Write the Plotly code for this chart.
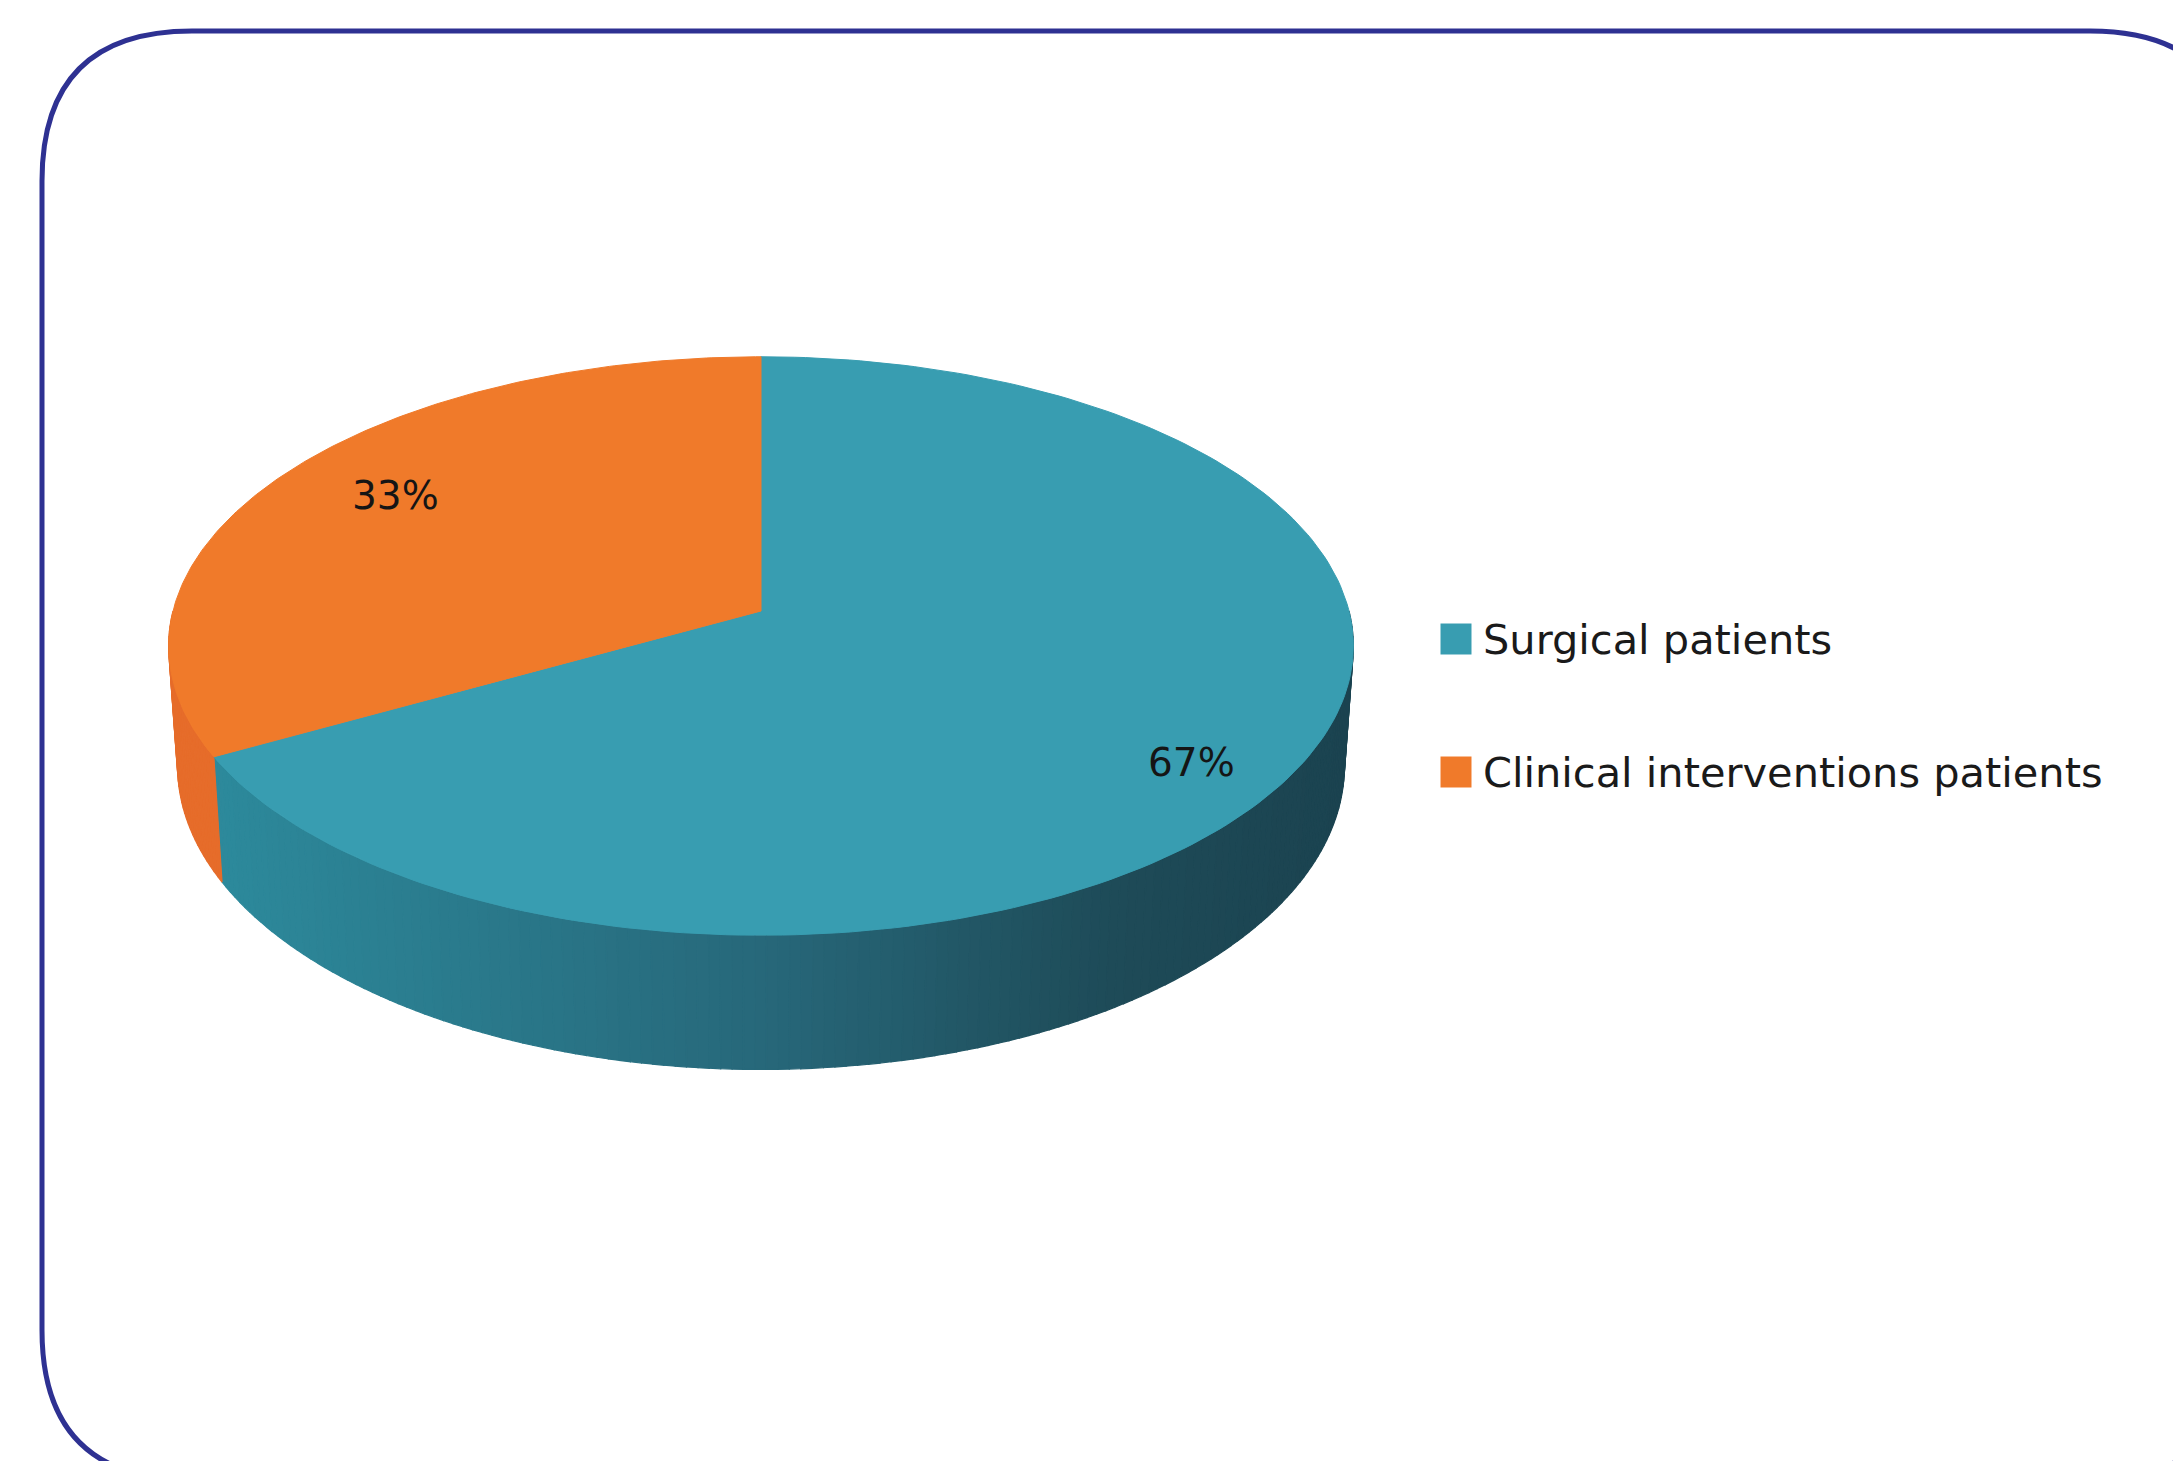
import numpy as np
import plotly.graph_objects as go

# ---- data ----
categories = ["Surgical patients", "Clinical interventions patients"]
values = [67, 33]
pct_labels = ["67%", "33%"]
top_colors = ["#389DB1", "#F07A2A"]

# ---- geometry (pixel space) ----
W, H = 2173, 1461
CX, CY = 761, 611          # projected pie centre
RX, AY = 588, 285          # horizontal radius, vertical (back) radius
K = 0.121                  # perspective factor
DEPTH = 118
BOTTOM_SCALE = 0.985


def proj(t, r=1.0):
    u, v = r * np.cos(t), r * np.sin(t)
    w = 1 + K * v
    return CX + RX * u / w, CY - AY * v / w


def proj_bottom(t):
    u, v = np.cos(t), np.sin(t)
    w = 1 + K * v
    return CX + RX * BOTTOM_SCALE * u / w, CY - AY * v / w + DEPTH / w


def hex2rgb(h):
    h = h.lstrip("#")
    return np.array([int(h[i:i + 2], 16) for i in (0, 2, 4)], dtype=float)


def interp(stops, f):
    for (f0, c0), (f1, c1) in zip(stops[:-1], stops[1:]):
        if f <= f1:
            a = (f - f0) / (f1 - f0) if f1 > f0 else 0
            c = hex2rgb(c0) * (1 - a) + hex2rgb(c1) * a
            return "rgb(%d,%d,%d)" % tuple(np.round(c))
    c = hex2rgb(stops[-1][1])
    return "rgb(%d,%d,%d)" % tuple(c)


side_stops = {
    0: [(0.0, "#2D8C9E"), (0.5, "#27687A"), (0.8, "#1E4B58"), (1.0, "#1B4350")],
    1: [(0.0, "#E66C2A"), (1.0, "#DC6428")],
}

# slice angles (start at 12 o'clock, clockwise)
total = sum(values)
angles = []
start = np.pi / 2
for v in values:
    sweep = 2 * np.pi * v / total
    angles.append((start - sweep, start))
    start -= sweep

fig = go.Figure()

# ---- sides (front half only) ----
seg = np.deg2rad(1.0)
for i, (a0, a1) in enumerate(angles):
    lo, hi = a0, a1
    pieces = []
    for shift in (-2 * np.pi, 0, 2 * np.pi):
        s0, s1 = max(lo + shift, np.pi), min(hi + shift, 2 * np.pi)
        if s1 > s0:
            pieces.append((s0, s1))
    for s0, s1 in pieces:
        n = max(1, int(np.ceil((s1 - s0) / seg)))
        ts = np.linspace(s0, s1, n + 1)
        for j in range(n):
            t0, t1 = ts[j], ts[j + 1]
            xa, ya = proj(t0)
            xb, yb = proj(t1)
            xc, yc = proj_bottom(t1)
            xd, yd = proj_bottom(t0)
            f = ((xa + xb) / 2 - (CX - RX)) / (2 * RX)
            col = interp(side_stops[i], min(max(f, 0), 1))
            fig.add_trace(go.Scatter(
                x=[xa, xb, xc, xd, xa], y=[ya, yb, yc, yd, ya],
                mode="lines", fill="toself", fillcolor=col,
                line=dict(color=col, width=1.2),
                hoverinfo="skip", showlegend=False))

# ---- top faces ----
for i, (a0, a1) in enumerate(angles):
    ts = np.linspace(a0, a1, 200)
    px, py = proj(ts)
    xs = np.concatenate([[CX], px, [CX]])
    ys = np.concatenate([[CY], py, [CY]])
    fig.add_trace(go.Scatter(
        x=xs, y=ys, mode="lines", fill="toself",
        fillcolor=top_colors[i], line=dict(color=top_colors[i], width=1),
        hoverinfo="skip", showlegend=False, name=categories[i]))

# ---- percentage labels ----
label_r = [0.85, 0.78]
label_dt = [-5.4, -2.4]
for i, (a0, a1) in enumerate(angles):
    mid = (a0 + a1) / 2 + np.deg2rad(label_dt[i])
    lx, ly = proj(mid, label_r[i])
    fig.add_annotation(x=lx, y=ly, text=pct_labels[i], showarrow=False,
                       font=dict(family="DejaVu Sans", size=39, color="#151515"),
                       xanchor="center", yanchor="middle")

# ---- legend (manual) ----
leg_x = 1456
leg_y = [639, 772]
fig.add_trace(go.Scatter(
    x=[leg_x] * len(categories), y=leg_y, mode="markers",
    marker=dict(symbol="square", size=31, color=top_colors, line=dict(width=0)),
    hoverinfo="skip", showlegend=False))
for i, c in enumerate(categories):
    fig.add_annotation(x=leg_x + 25, y=leg_y[i], text=c, showarrow=False,
                       font=dict(family="DejaVu Sans", size=41.5, color="#1A1A1A"),
                       xanchor="left", yanchor="middle")

# ---- rounded border ----
x0, y0, x1, y1, r = 42, 31, 2240, 1480, 150
path = (f"M {x0+r},{y0} L {x1-r},{y0} Q {x1},{y0} {x1},{y0+r} "
        f"L {x1},{y1-r} Q {x1},{y1} {x1-r},{y1} L {x0+r},{y1} "
        f"Q {x0},{y1} {x0},{y1-r} L {x0},{y0+r} Q {x0},{y0} {x0+r},{y0} Z")
fig.add_shape(type="path", path=path, xref="x", yref="y",
              line=dict(color="#2E3192", width=5), layer="above")

fig.update_layout(
    width=W, height=H, margin=dict(l=0, r=0, t=0, b=0),
    paper_bgcolor="white", plot_bgcolor="white",
    xaxis=dict(range=[0, W], visible=False, fixedrange=True),
    yaxis=dict(range=[H, 0], visible=False, fixedrange=True),
    showlegend=False,
)

fig.write_html("out.html")
